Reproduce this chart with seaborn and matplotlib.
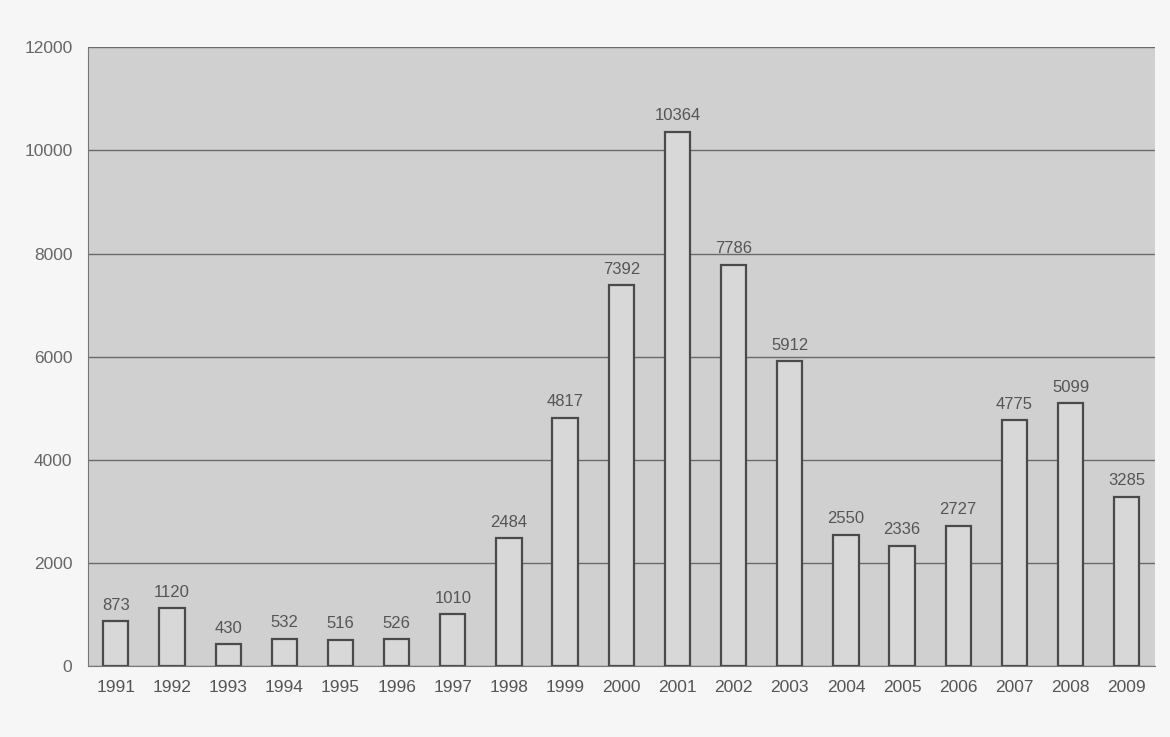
import matplotlib
matplotlib.use("Agg")
import matplotlib.pyplot as plt
import seaborn as sns
import pandas as pd

years = ["1991", "1992", "1993", "1994", "1995", "1996", "1997", "1998", "1999", "2000",
         "2001", "2002", "2003", "2004", "2005", "2006", "2007", "2008", "2009"]
values = [873, 1120, 430, 532, 516, 526, 1010, 2484, 4817, 7392,
          10364, 7786, 5912, 2550, 2336, 2727, 4775, 5099, 3285]
yticks = [0, 2000, 4000, 6000, 8000, 10000, 12000]

df = pd.DataFrame({"year": years, "value": values})

sns.set_style("white")
plt.rcParams['font.family'] = ['Liberation Sans', 'DejaVu Sans']

fig = plt.figure(figsize=(11.7, 7.37), dpi=100)
fig.patch.set_facecolor("#f6f6f6")
ax = fig.add_axes([0.075, 0.096, 0.912, 0.840])
ax.set_facecolor("#d0d0d0")

sns.barplot(data=df, x="year", y="value", color="#d8d8d8", width=0.45,
            edgecolor="#4a4a4a", linewidth=1.6, saturation=1, ax=ax, zorder=3)

ax.bar_label(ax.containers[0], labels=[str(v) for v in values], padding=6,
             fontsize=12, color="#555555")

ax.set_ylim(0, 12000)
ax.set_yticks(yticks)
ax.set_yticklabels([str(t) for t in yticks], fontsize=12.5, color="#666666")
ax.tick_params(axis="x", labelsize=12.5, labelcolor="#555555", length=0, pad=10)
ax.tick_params(axis="y", length=5, color="#777777", pad=6)
ax.grid(axis="y", color="#6a6a6a", linewidth=1.0, zorder=1)
ax.set_axisbelow(True)
ax.set_xlabel("")
ax.set_ylabel("")
for side in ["top", "right"]:
    ax.spines[side].set_visible(False)
ax.spines["left"].set_color("#777777")
ax.spines["bottom"].set_color("#777777")
ax.spines["bottom"].set_zorder(4)

# ticks between categories on x axis
ax.set_xticks([i + 0.5 for i in range(-1, len(years))], minor=True)
ax.tick_params(axis="x", which="minor", length=5, color="#777777", direction="out")
ax.set_xlim(-0.5, len(years) - 0.5)

fig.savefig("out.png", dpi=100)
